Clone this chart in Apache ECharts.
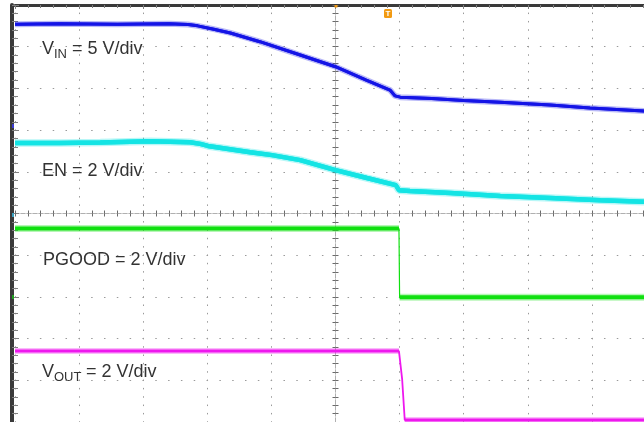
<!DOCTYPE html>
<html>
<head>
<meta charset="utf-8">
<script src="https://cdn.jsdelivr.net/npm/echarts@6/dist/echarts.min.js"></script>
<style>
  html, body { margin: 0; padding: 0; background: #fff; }
  #chart { width: 644px; height: 422px; }
</style>
</head>
<body>
<div id="chart"></div>
<script>
// Screen divisions: time -5..5 div (trigger at center), amplitude -5..5 div
const vinTrace = [[-5,4.54],[-4.3,4.55],[-3.4,4.54],[-2.6,4.55],[-2.3,4.53],[-2.15,4.50],[-1.9,4.42],
  [-1.64,4.33],[-1.18,4.12],[-0.55,3.80],[0.0,3.52],[0.48,3.20],[0.85,2.96],[0.93,2.82],[1.01,2.79],
  [1.5,2.76],[2.0,2.71],[2.57,2.67],[3.35,2.60],[3.97,2.53],[4.81,2.46],[5,2.43]];
const enTrace = [[-5,1.69],[-4.3,1.69],[-3.67,1.70],[-2.89,1.73],[-2.27,1.71],[-2.11,1.67],[-1.99,1.62],
  [-1.33,1.47],[-0.99,1.40],[-0.55,1.28],[0.0,1.04],[0.49,0.85],[0.94,0.68],[0.99,0.56],[1.16,0.54],
  [1.79,0.49],[2.57,0.42],[3.35,0.37],[4.13,0.32],[4.81,0.28],[5,0.25]];
const pgoodTrace = [[-5,-0.36],[0.99,-0.36],[1.0,-2.01],[5,-2.01]];
const voutTrace = [[-5,-3.30],[0.99,-3.30],[1.04,-3.98],[1.08,-4.95],[5,-4.95]];
const labelMain = ['V', ' = 5 V/div', 'EN = 2 V/div', 'PGOOD = 2 V/div', 'V', ' = 2 V/div'];
const labelSub = ['IN', 'OUT'];

const chart = echarts.init(document.getElementById('chart'), null, {renderer: 'canvas'});

const dotH = {color: '#9a9a9a', width: 1, type: [1.5, 64.1/5 - 1.5], dashOffset: 0.75};
const dotV = {color: '#9a9a9a', width: 1, type: [1.5, 41.7/5 - 1.5], dashOffset: 0.75};
const centerLine = {color: '#b0b0b0', width: 1, type: [4, 2]};
const tickStyle = {color: '#6a6a6a', width: 1};

function centerAxis(pos, split, splitStyle) {
  return {
    type: 'value', min: -5, max: 5, interval: 1, position: pos,
    axisLine: {show: true, onZero: true, onZeroAxisIndex: 0, lineStyle: centerLine},
    axisTick: {show: true, length: 3, lineStyle: tickStyle},
    minorTick: {show: true, splitNumber: 5, length: 3, lineStyle: tickStyle},
    axisLabel: {show: false},
    splitLine: {show: split, lineStyle: splitStyle},
    minorSplitLine: {show: false}
  };
}

function borderAxis(pos, offset, width) {
  return {
    type: 'value', min: -5, max: 5, interval: 1, position: pos, offset: offset,
    axisLine: {show: true, onZero: false, lineStyle: {color: '#3a3a3a', width: width}},
    axisTick: {show: true, inside: true, length: offset + 4, lineStyle: {color: '#808080'}},
    minorTick: {show: true, splitNumber: 5, length: offset + 3, lineStyle: {color: '#808080'}},
    axisLabel: {show: false},
    splitLine: {show: false}
  };
}

// break the thick trace at fast (near-vertical) edges, which a scope draws thin
function levelsOnly(data) {
  const out = [data[0]];
  for (let i = 1; i < data.length; i++) {
    const dx = data[i][0] - data[i-1][0], dy = Math.abs(data[i][1] - data[i-1][1]);
    if (dy / Math.max(dx, 1e-6) > 10) out.push(null);
    out.push(data[i]);
  }
  return out;
}

function trace(data, color, width, edgeWidth, z) {
  return [
    {type: 'line', data: data, showSymbol: false, silent: true, z: z,
     lineStyle: {color: color, width: edgeWidth}, animation: false},
    {type: 'line', data: levelsOnly(data), showSymbol: false, silent: true, z: z, connectNulls: false,
     lineStyle: {color: color, width: width + 3, opacity: 0.3}, animation: false},
    {type: 'line', data: levelsOnly(data), showSymbol: false, silent: true, z: z + 1, connectNulls: false,
     lineStyle: {color: color, width: width}, animation: false}
  ];
}

const font = '"Liberation Sans", Arial, sans-serif';
function txt(x, y, s, size) {
  return {type: 'text', z: 100, style: {x: x, y: y, text: s, fill: '#333333',
    font: size + 'px ' + font, verticalAlign: 'middle', align: 'left'}};
}

chart.setOption({
  animation: false,
  backgroundColor: '#ffffff',
  grid: {left: 15, top: 5, width: 641, height: 417, show: false, outerBoundsMode: 'none', containLabel: false},
  xAxis: [
    centerAxis('bottom', true, dotV),
    centerAxis('top', false, dotV),
    borderAxis('top', 0, 3)
  ],
  yAxis: [
    centerAxis('left', true, dotH),
    centerAxis('right', false, dotH),
    borderAxis('left', 3, 4)
  ],
  series: [].concat(
    trace(vinTrace, '#1414e6', 3, 3, 10),
    trace(enTrace, '#14e4e4', 4.5, 4.5, 10),
    trace(pgoodTrace, '#10e010', 4, 1.2, 10),
    trace(voutTrace, '#ee18ee', 3, 1.8, 10)
  ),
  graphic: [
    txt(42, 49, labelMain[0], 18),
    txt(54, 54, labelSub[0], 13),
    txt(67, 49, labelMain[1], 18),
    txt(42, 171, labelMain[2], 18),
    txt(43, 260.5, labelMain[3], 18),
    txt(42, 372, labelMain[4], 18),
    txt(54, 377, labelSub[1], 13),
    txt(81, 372, labelMain[5], 18),
    {type: 'rect', z: 100, shape: {x: 384, y: 9, width: 8, height: 9, r: 1.5}, style: {fill: '#f29a12'}},
    {type: 'text', z: 101, style: {x: 388, y: 13.8, text: 'T', fill: '#ffffff',
      font: 'bold 8px ' + font, align: 'center', verticalAlign: 'middle'}},
    {type: 'rect', z: 100, shape: {x: 334.5, y: 5, width: 3, height: 2.5}, style: {fill: '#f29a12'}},
    {type: 'rect', z: 100, shape: {x: 12, y: 124, width: 2, height: 4}, style: {fill: '#3a3ad0'}},
    {type: 'rect', z: 100, shape: {x: 12, y: 213, width: 2, height: 4}, style: {fill: '#3aa0c0'}},
    {type: 'rect', z: 100, shape: {x: 12, y: 295, width: 2, height: 4}, style: {fill: '#20a020'}}
  ]
});
</script>
</body>
</html>
